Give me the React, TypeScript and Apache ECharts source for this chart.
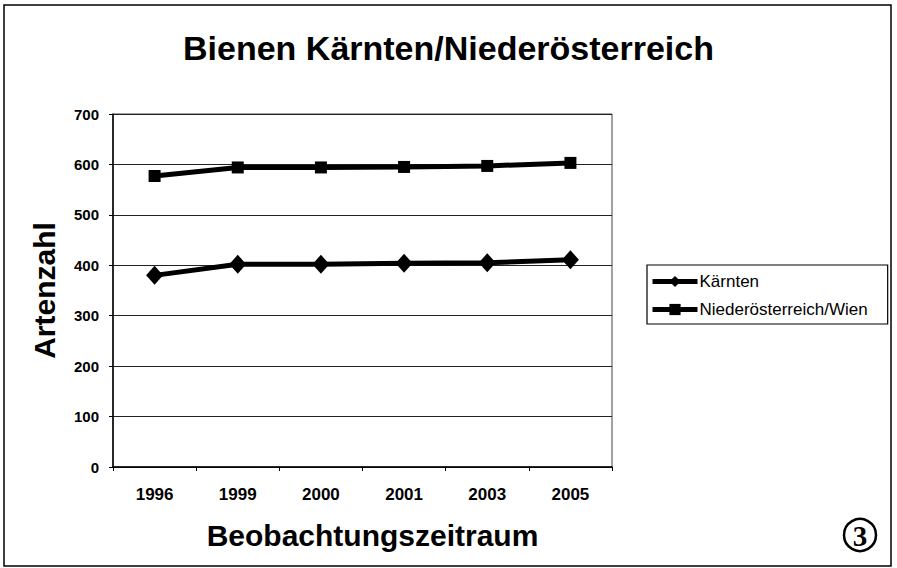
import React, { useEffect, useRef } from "react";
import * as echarts from "echarts";

const categories = ["1996", "1999", "2000", "2001", "2003", "2005"];
const kaernten = [380, 402, 402, 404, 405, 411];
const niederoesterreich = [577, 594, 594, 595, 597, 603];
const seriesNames = ["Kärnten", "Niederösterreich/Wien"];
const titleText = "Bienen Kärnten/Niederösterreich";
const yAxisName = "Artenzahl";
const xAxisName = "Beobachtungszeitraum";

const FONT = "'Liberation Sans', Arial, sans-serif";

export default function App() {
  const ref = useRef<HTMLDivElement>(null);
  useEffect(() => {
    document.body.style.margin = "0";
    const chart = echarts.init(ref.current!, null, { renderer: "svg" });
    chart.setOption({
      animation: false,
      backgroundColor: "#ffffff",
      textStyle: { fontFamily: FONT, color: "#000" },
      title: {
        text: titleText,
        left: "center",
        top: 26,
        textStyle: { fontFamily: FONT, fontSize: 34, fontWeight: "bold", color: "#000" },
      },
      legend: {
        orient: "vertical",
        left: 647,
        top: 265,
        padding: [8, 20, 6, 3],
        itemGap: 11,
        itemWidth: 45,
        itemHeight: 14,
        borderColor: "#000",
        borderWidth: 1.2,
        lineStyle: { width: 5 },
        textStyle: { fontFamily: FONT, fontSize: 17, color: "#000", padding: [0, 0, 0, -3] },
        data: seriesNames,
      },
      grid: {
        left: 113,
        top: 114,
        width: 499,
        height: 353,
        show: true,
        borderColor: "#444",
        borderWidth: 1,
      },
      xAxis: {
        type: "category",
        data: categories,
        boundaryGap: true,
        name: xAxisName,
        nameLocation: "middle",
        nameGap: 53,
        nameTextStyle: {
          fontFamily: FONT,
          fontSize: 30,
          fontWeight: "bold",
          color: "#000",
          padding: [0, 0, 0, 20],
        },
        axisLine: { lineStyle: { color: "#000", width: 1.5 } },
        axisTick: { show: true, inside: false, length: 4, lineStyle: { color: "#000" } },
        axisLabel: { fontFamily: FONT, fontSize: 17, fontWeight: "bold", color: "#000", margin: 19 },
      },
      yAxis: {
        type: "value",
        min: 0,
        max: 700,
        interval: 100,
        name: yAxisName,
        nameLocation: "middle",
        nameGap: 54,
        nameTextStyle: { fontFamily: FONT, fontSize: 30, fontWeight: "bold", color: "#000" },
        axisLine: { show: true, lineStyle: { color: "#000", width: 1.5 } },
        axisTick: { show: true, length: 4, lineStyle: { color: "#000" } },
        axisLabel: { fontFamily: FONT, fontSize: 15, fontWeight: "bold", color: "#000", margin: 14 },
        splitLine: { show: true, lineStyle: { color: "#222", width: 1 } },
      },
      series: [
        {
          name: seriesNames[0],
          type: "line",
          data: kaernten,
          symbol: "diamond",
          symbolSize: [17, 19],
          lineStyle: { color: "#000", width: 5 },
          itemStyle: { color: "#000" },
        },
        {
          name: seriesNames[1],
          type: "line",
          data: niederoesterreich,
          symbol: "rect",
          symbolSize: 12,
          lineStyle: { color: "#000", width: 5 },
          itemStyle: { color: "#000" },
        },
      ],
      graphic: [
        {
          type: "rect",
          shape: { x: 4, y: 5, width: 887, height: 561 },
          style: { fill: "none", stroke: "#000", lineWidth: 1.5 },
          silent: true,
        },
        {
          type: "circle",
          shape: { cx: 860, cy: 535, r: 16 },
          style: { fill: "none", stroke: "#000", lineWidth: 2.5 },
        },
        {
          type: "text",
          x: 860,
          y: 536,
          style: {
            text: "3",
            fontFamily: "'Liberation Serif', 'Times New Roman', serif",
            fontSize: 29,
            fontWeight: "bold",
            fill: "#000",
            align: "center",
            verticalAlign: "middle",
          },
        },
      ],
    });
    return () => chart.dispose();
  }, []);
  return <div ref={ref} style={{ width: 897, height: 568 }} />;
}
